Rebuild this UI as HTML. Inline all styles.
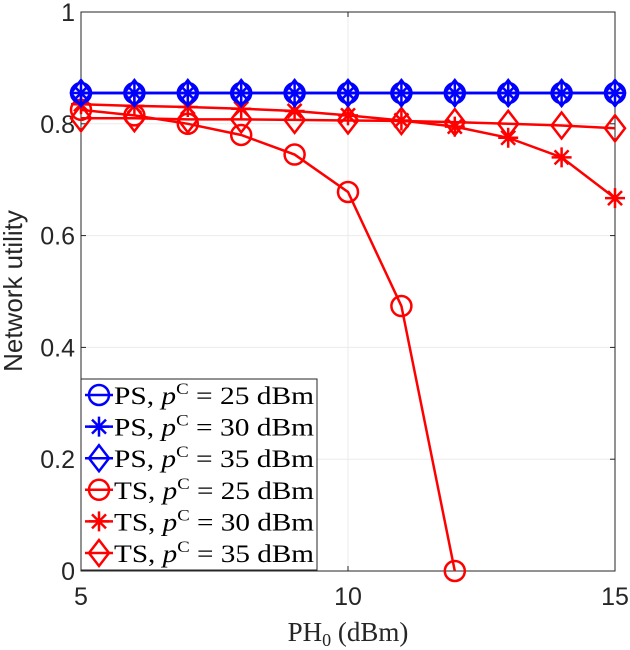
<!DOCTYPE html>
<html><head><meta charset="utf-8"><style>
html,body{margin:0;padding:0;background:#fff;}
svg{display:block;}
</style></head><body>
<svg id="chart" width="630" height="650" xmlns="http://www.w3.org/2000/svg"></svg>
<script>
const xTicks=[5,10,15];
const yTicks=[0,0.2,0.4,0.6,0.8,1];
const yTickLabels=["0","0.2","0.4","0.6","0.8","1"];
const xPS=[5,6,7,8,9,10,11,12,13,14,15];
const ps25=[0.855,0.855,0.855,0.855,0.855,0.855,0.855,0.855,0.855,0.855,0.855];
const ps30=[0.855,0.855,0.855,0.855,0.855,0.855,0.855,0.855,0.855,0.855,0.855];
const ps35=[0.855,0.855,0.855,0.855,0.855,0.855,0.855,0.855,0.855,0.855,0.855];
const xTS25=[5,6,7,8,9,10,11,12];
const ts25=[0.825,0.815,0.80,0.78,0.745,0.678,0.474,0.0];
const xTS=[5,6,7,8,9,10,11,12,13,14,15];
const ts30=[0.835,0.832,0.83,0.827,0.823,0.815,0.806,0.795,0.775,0.74,0.667];
const ts35=[0.81,0.81,0.808,0.808,0.807,0.806,0.805,0.803,0.8,0.797,0.792];
const legendLabels=["PS","PS","PS","TS","TS","TS"];
const legendP=["25","30","35","25","30","35"];

const L=81,R=615,T=12,B=571;
const xs=v=>L+(v-5)/10*(R-L);
const ys=v=>B-v*(B-T);
const NS="http://www.w3.org/2000/svg";
const svg=document.getElementById('chart');
function mk(tag,attrs,parent){const e=document.createElementNS(NS,tag);for(const k in attrs)e.setAttribute(k,attrs[k]);(parent||svg).appendChild(e);return e;}

const bg=mk('rect',{x:L,y:T,width:R-L,height:B-T,fill:'#fff'});


for(const v of yTicks){const g=mk('line',{x1:L,x2:R,y1:ys(v),y2:ys(v),stroke:'#ebebeb','stroke-width':1});

}
for(const v of xTicks){const g=mk('line',{x1:xs(v),x2:xs(v),y1:T,y2:B,stroke:'#ebebeb','stroke-width':1});

}
const box=mk('rect',{x:L,y:T,width:R-L,height:B-T,fill:'none',stroke:'#262626','stroke-width':1});


yTicks.forEach((v,i)=>{
 mk('line',{x1:L,x2:L+5,y1:ys(v),y2:ys(v),stroke:'#262626'});
 mk('line',{x1:R,x2:R-5,y1:ys(v),y2:ys(v),stroke:'#262626'});
 const t=mk('text',{x:L-6,y:ys(v)+9,'text-anchor':'end','font-family':'Liberation Sans, sans-serif','font-size':25,fill:'#262626'});
 t.textContent=yTickLabels[i];
 
 
});
xTicks.forEach(v=>{
 mk('line',{x1:xs(v),x2:xs(v),y1:B,y2:B-5,stroke:'#262626'});
 mk('line',{x1:xs(v),x2:xs(v),y1:T,y2:T+5,stroke:'#262626'});
 const t=mk('text',{x:xs(v),y:B+34,'text-anchor':'middle','font-family':'Liberation Sans, sans-serif','font-size':25,fill:'#262626'});
 t.textContent=String(v);
 
 
});
const yl=mk('text',{x:0,y:0,transform:'translate(22,291) rotate(-90)','text-anchor':'middle','font-family':'Liberation Sans, sans-serif','font-size':26,fill:'#262626'});
yl.textContent='Network utility';


const xl=mk('text',{x:348,y:641,'text-anchor':'middle','font-family':'Liberation Serif, serif','font-size':27,fill:'#262626'});
xl.innerHTML='PH<tspan font-size="18" dy="5">0</tspan><tspan dy="-5"> (dBm)</tspan>';



function marker(type,cx,cy,color,g){
 if(type==='o') mk('circle',{cx,cy,r:10,fill:'none',stroke:color,'stroke-width':2.5},g);
 else if(type==='*'){
  const s=10;
  mk('path',{d:`M${cx-s} ${cy}H${cx+s}M${cx} ${cy-s}V${cy+s}M${cx-s*0.7} ${cy-s*0.7}L${cx+s*0.7} ${cy+s*0.7}M${cx-s*0.7} ${cy+s*0.7}L${cx+s*0.7} ${cy-s*0.7}`,stroke:color,'stroke-width':2.5,fill:'none'},g);
 } else mk('path',{d:`M${cx} ${cy-13}L${cx+10} ${cy}L${cx} ${cy+13}L${cx-10} ${cy}Z`,fill:'none',stroke:color,'stroke-width':2.5},g);
}
function series(xv,yv,type,color,name){
 const g=mk('g',{});
 
 
 mk('polyline',{points:xv.map((x,i)=>xs(x)+','+ys(yv[i])).join(' '),fill:'none',stroke:color,'stroke-width':2.5},g);
 xv.forEach((x,i)=>marker(type,xs(x),ys(yv[i]),color,g));
}
const blue='#0000ff',red='#ff0000';
series(xTS,ts35,'d',red,'series-ts-35');
series(xTS,ts30,'*',red,'series-ts-30');
series(xTS25,ts25,'o',red,'series-ts-25');
series(xPS,ps35,'d',blue,'series-ps-35');
series(xPS,ps30,'*',blue,'series-ps-30');
series(xPS,ps25,'o',blue,'series-ps-25');

const lg=mk('g',{});


mk('rect',{x:81,y:379,width:236,height:191,fill:'#fff',stroke:'#262626','stroke-width':1},lg);
const types=['o','*','d','o','*','d'];
const cols=[blue,blue,blue,red,red,red];
for(let i=0;i<6;i++){
 const cy=395+i*31.6;
 const e=mk('g',{},lg);
 
 
 mk('line',{x1:85,x2:113,y1:cy,y2:cy,stroke:cols[i],'stroke-width':2.5},e);
 marker(types[i],99,cy,cols[i],e);
 const t=mk('text',{x:114,y:cy+9,'font-family':'Liberation Serif, serif','font-size':25,fill:'#000',textLength:200,lengthAdjust:'spacingAndGlyphs'},e);
 t.innerHTML=legendLabels[i]+', <tspan font-style="italic">p</tspan><tspan font-size="16" dy="-10">C</tspan><tspan dy="10"> = '+legendP[i]+' dBm</tspan>';
}
</script>
</body></html>
